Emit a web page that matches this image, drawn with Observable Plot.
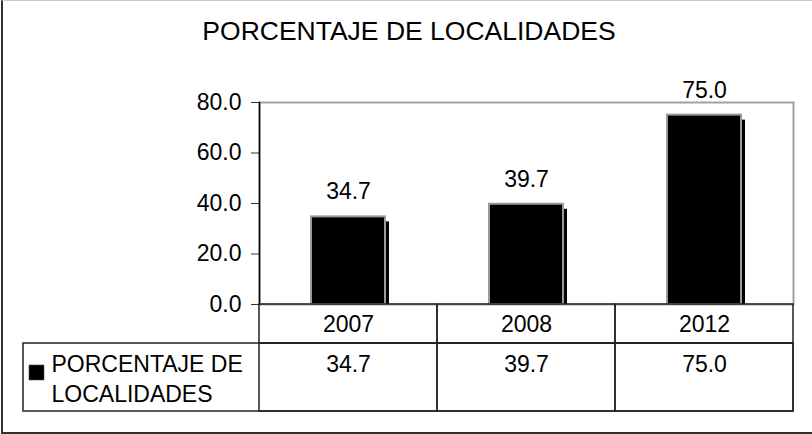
<!DOCTYPE html>
<html>
<head>
<meta charset="utf-8">
<script src="https://cdn.jsdelivr.net/npm/d3@7"></script>
<script src="https://cdn.jsdelivr.net/npm/@observablehq/plot@0.6"></script>
<style>
  html, body { margin: 0; padding: 0; background: #fff; }
  #wrap { position: relative; width: 812px; height: 434px; overflow: hidden; background: #fff;
          font-family: Arial, "Liberation Sans", sans-serif; }
  #title { position: absolute; left: 3px; top: 0; width: 812px; height: 60px; line-height: 62px;
           text-align: center; font-size: 26.5px; color: #000; }
  #chart { position: absolute; left: 0; top: 60px; }
  #border { position: absolute; left: 1px; top: 0; width: 840px; height: 431px;
            border-left: 2px solid #333; border-bottom: 2px solid #333; border-top: 1.5px solid #c8c8c8;
            pointer-events: none; }
</style>
</head>
<body>
<div id="wrap">
  <div id="title"></div>
  <div id="chart"></div>
  <div id="border"></div>
</div>
<script>
// ---- data ----
const chartTitle = "PORCENTAJE DE LOCALIDADES";
const seriesName = "PORCENTAJE DE LOCALIDADES";
const legendLine1 = ["PORCENTAJE DE"];
const legendLine2 = ["LOCALIDADES"];
const years = ["2007", "2008", "2012"];
const values = [34.7, 39.7, 75.0];
const yTicks = [0, 20, 40, 60, 80];
const yDomain = [0, 80];

const data = years.map((y, i) => ({year: y, value: values[i]}));
const fmt = d => d.toFixed(1);

// ---- layout ----
const W = 812, H = 374;
const mTop = 42, mBottom = 130, mLeft = 259, mRight = 19;
const frameH = H - mTop - mBottom;
const row1 = 39, row2 = 68;   // table row heights
const barInset = 52, shadowDx = 4, shadowDy = 5;
const FONT = 23;

document.getElementById("title").textContent = chartTitle;

const chart = Plot.plot({
  width: W, height: H,
  marginTop: mTop, marginBottom: mBottom, marginLeft: mLeft, marginRight: mRight,
  style: {fontFamily: "Arial, 'Liberation Sans', sans-serif", fontSize: FONT + "px", color: "#000", background: "transparent", overflow: "visible"},
  x: {type: "band", domain: years, padding: 0, axis: null},
  y: {domain: yDomain, axis: null},
  marks: [
    // plot area border (gray)
    Plot.frame({stroke: "#a0a0a0", strokeWidth: 2}),
    // bar shadows
    Plot.barY(data, {x: "year", y: "value", fill: "#000",
      insetLeft: barInset + shadowDx, insetRight: barInset - shadowDx, insetTop: shadowDy}),
    // bars
    Plot.barY(data, {x: "year", y: "value", fill: "#000", stroke: "#9a9a9a", strokeWidth: 2,
      insetLeft: barInset, insetRight: barInset}),
    // value labels
    Plot.text(data, {x: "year", y: "value", text: d => fmt(d.value), dy: -25, fontSize: FONT, fill: "#000"}),
    // y axis
    Plot.axisY({ticks: yTicks, tickFormat: fmt, tickSize: 8, tickPadding: 10, label: null, fontSize: FONT, stroke: "#333"}),
    Plot.frame({anchor: "left", stroke: "#000", strokeWidth: 1.5}),
    // data table: category row
    Plot.cell(years, {x: d => d, fill: "none", stroke: "#222", strokeWidth: 1.5,
      insetTop: frameH, insetBottom: -row1}),
    // data table: legend row outer box
    Plot.rect([seriesName], {fill: "none", stroke: "#222", strokeWidth: 1.5,
      insetLeft: -(mLeft - 23), insetRight: 0, insetTop: frameH + row1, insetBottom: -(row1 + row2)}),
    // data table: value cells
    Plot.cell(years, {x: d => d, fill: "none", stroke: "#222", strokeWidth: 1.5,
      insetTop: frameH + row1, insetBottom: -(row1 + row2)}),
    // year labels
    Plot.text(years, {x: d => d, text: d => d, frameAnchor: "bottom", dy: 27, fontSize: FONT, fill: "#000"}),
    // table values
    Plot.text(data, {x: "year", text: d => fmt(d.value), frameAnchor: "bottom", dy: 67, fontSize: FONT, fill: "#000"}),
    // legend key
    Plot.dot([seriesName], {frameAnchor: "bottom-left", dx: 36 - mLeft, dy: 68, symbol: "square", r: 8.5, fill: "#000", stroke: "#555", strokeWidth: 0.5}),
    Plot.text(legendLine1, {text: d => d, frameAnchor: "bottom-left", dx: 51 - mLeft, dy: 67,
      textAnchor: "start", fontSize: FONT, fill: "#000"}),
    Plot.text(legendLine2, {text: d => d, frameAnchor: "bottom-left", dx: 51 - mLeft, dy: 97,
      textAnchor: "start", fontSize: FONT, fill: "#000"})
  ]
});
document.getElementById("chart").appendChild(chart);
</script>
</body>
</html>
